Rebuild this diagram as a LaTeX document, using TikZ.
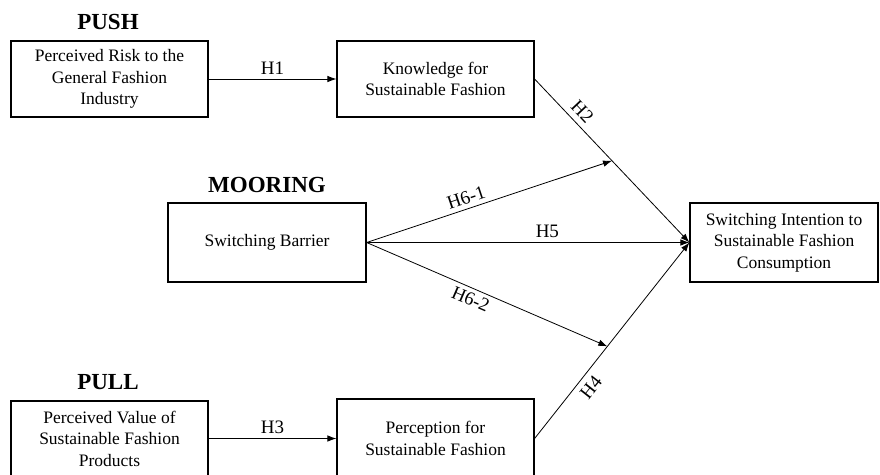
\documentclass[tikz,border=0pt]{standalone}
\usepackage{fontspec}
\setmainfont{Liberation Serif}
\usepackage{xcolor}
\usepackage{tikz}
\usetikzlibrary{arrows.meta,calc}

\begin{document}
\begin{tikzpicture}[x=1pt,y=-1pt]
			\tikzstyle{group} = [font=\fontsize{23}{27}\selectfont\bfseries]
			\tikzstyle{factor}=[draw, line width=1.2pt, align=center, inner sep=0pt, font=\fontsize{17.5}{21.5}\selectfont]
			\tikzstyle{hyp} = [font=\fontsize{19}{22}\selectfont, inner sep=4pt]
			\tikzset{edge/.style = {line width=0.8pt, -{Latex[length=9pt,width=6.5pt]}}}

			\useasboundingbox (0,0) rectangle (880,474);

			\node[group](push) at (108,22) {PUSH};
			\node[group](mooring) at (267,185) {MOORING};
			\node[group](pull) at (108,382) {PULL};

			\node[factor, minimum width=197pt, minimum height=76pt](risk) at (109.5,79) {Perceived Risk to the\\General Fashion\\Industry};
			\node[factor, minimum width=197pt, minimum height=76pt](know) at (435.5,79) {Knowledge for\\Sustainable Fashion};
			\node[factor, minimum width=198pt, minimum height=79pt](barrier) at (267,242.5) {Switching Barrier};
			\node[factor, minimum width=188pt, minimum height=79pt](intent) at (784,242.5) {Switching Intention to\\Sustainable Fashion\\Consumption};
			\node[factor, minimum width=197pt, minimum height=75pt](value) at (109.5,438.5) {Perceived Value of\\Sustainable Fashion\\Products};
			\node[factor, minimum width=197pt, minimum height=79pt](percep) at (435.5,438.5) {Perception for\\Sustainable Fashion};

			\coordinate (mid1) at ($(know.east)!0.5!(intent.west)$);
			\coordinate (mid2) at ($(percep.east)!0.47!(intent.west)$);

			\draw[edge](risk) to node[hyp, above]{H1} (know);
			\draw[edge](value) to node[hyp, above]{H3} (percep);
			\draw[edge](know.east) to node[hyp, pos=0.25, above, sloped, inner sep=6pt]{H2} (intent.west);
			\draw[edge](percep.east) to node[hyp, pos=0.3, below, sloped, inner sep=6pt]{H4} (intent.west);
			\draw[edge](barrier.east) to node[hyp, pos=0.56, above]{H5} (intent.west);
			\draw[edge](barrier.east) to node[hyp, pos=0.42, above, sloped]{H6-1} (mid1);
			\draw[edge](barrier.east) to node[hyp, pos=0.45, below, sloped]{H6-2} (mid2);

			\end{tikzpicture}
\end{document}
